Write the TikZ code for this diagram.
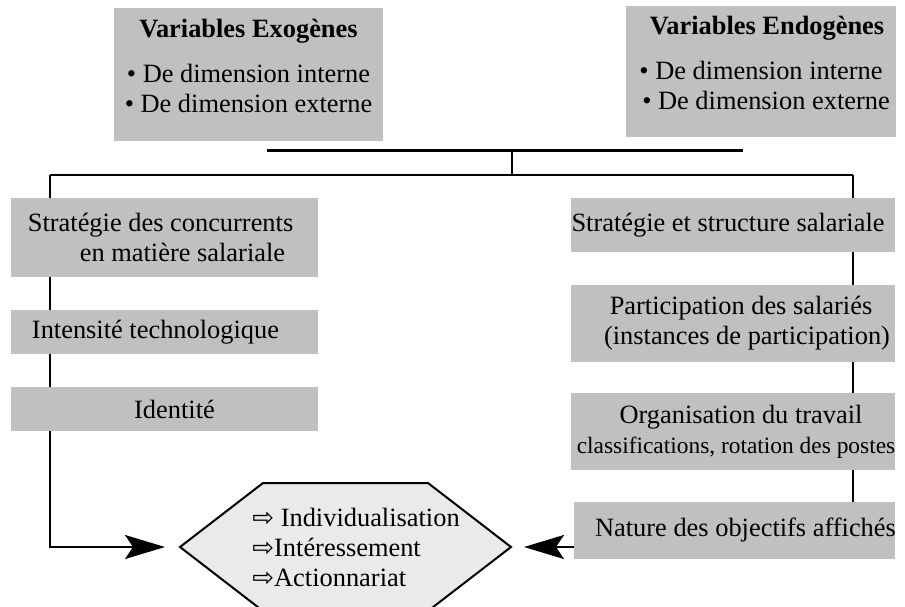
\documentclass[tikz,border=0pt]{standalone}
\usepackage{fontspec}
\setmainfont{Liberation Serif}
\newfontfamily\arrowfont{DejaVu Sans}
\usetikzlibrary{arrows.meta, calc}
\definecolor{boxgray}{RGB}{192,192,192}
\definecolor{hexgray}{RGB}{234,234,234}
\newcommand{\puce}{{\arrowfont\fontsize{13}{13}\selectfont ⇨}}
\newcommand{\lowstrut}{\rule[-9pt]{0pt}{9pt}}

\begin{document}
\begin{tikzpicture}[x=0.5pt, y=-0.5pt,
    every node/.style={font=\fontsize{13.2}{15}\selectfont},
    graybox/.style={fill=boxgray, inner sep=0pt, align=center},
    conn/.style={line width=1pt},
    arrowline/.style={line width=1pt, -{Stealth[length=20pt, width=12pt, inset=4pt]}}]
    \useasboundingbox (0,0) rectangle (905,606);
    \clip (0,0) rectangle (905,606);

    % Variables
    \node[graybox, minimum width=134.5pt, minimum height=66.5pt] (exo) at (248.5,74.5)
        {\textbf{Variables Exogènes}\\[7.5pt]• De dimension interne\\• De dimension externe\lowstrut};
    \node[graybox, minimum width=135pt, minimum height=65.5pt] (endo) at (761,71.5)
        {\textbf{Variables Endogènes}\hspace*{-6pt}\\[7.5pt]• De dimension interne\hspace*{-5pt}\\• De dimension externe\hspace*{-5pt}\lowstrut};

    % Bars
    \coordinate (tbL) at (267,150);
    \coordinate (tbR) at (743,150);
    \coordinate (tbM) at (512,150);
    \coordinate (bbL) at (50,175);
    \coordinate (bbR) at (853,175);
    \draw[line width=1.5pt] (tbL) -- (tbR);
    \draw[conn] (tbM) -- (tbM |- bbL);
    \draw[conn] (bbL) -- (bbR);

    % Left column
    \node[graybox, minimum width=153.5pt, minimum height=39.5pt, align=left] (s1) at (164.5,237.5)
        {Stratégie des concurrents\\\hspace*{26pt}en matière salariale\hspace*{8pt}};
    \node[graybox, minimum width=153.5pt, minimum height=22pt] (s2) at (164.5,332) {Intensité technologique\hspace*{9pt}};
    \node[graybox, minimum width=153.5pt, minimum height=22pt] (s3) at (164.5,409) {\hspace*{10pt}Identité};

    % Right column
    \node[graybox, minimum width=162pt, minimum height=27pt] (rA) at (733,225) {Stratégie et structure salariale\hspace*{5pt}};
    \node[graybox, minimum width=162pt, minimum height=38.5pt] (rB) at (733,323.5)
        {Participation des salariés\hspace*{-8pt}\\(instances de participation)\hspace*{-14pt}};
    \node[graybox, minimum width=162pt, minimum height=38.5pt] (rC) at (733,431.5)
        {Organisation du travail\hspace*{-8pt}\\{\fontsize{11.7}{13}\selectfont classifications, rotation des postes}\hspace*{-3pt}};
    \node[graybox, minimum width=160.5pt, minimum height=28.5pt] (rD) at (734.5,530.5) {Nature des objectifs affichés\hspace*{-11pt}};

    % Hexagon
    \coordinate (hexW) at (180,547);
    \coordinate (hexE) at (511,547);
    \draw[line width=1pt, fill=hexgray] (hexW) -- (263,483) -- (428,483) -- (hexE) -- (428,611) -- (263,611) -- cycle;
    \node[anchor=west, inner sep=0pt, align=left] (hex) at (252,547)
        {\puce{} Individualisation\\\puce Intéressement\\\puce Actionnariat};

    % Connectors
    \draw[conn] (bbL) -- (s1.north -| bbL);
    \draw[conn] (s1.south -| bbL) -- (s2.north -| bbL);
    \draw[conn] (s2.south -| bbL) -- (s3.north -| bbL);
    \draw[arrowline, shorten >=7.5pt] (s3.south -| bbL) |- (hexW);
    \draw[conn] (bbR) -- (rA.north -| bbR);
    \draw[conn] (rA.south -| bbR) -- (rB.north -| bbR);
    \draw[conn] (rB.south -| bbR) -- (rC.north -| bbR);
    \draw[conn] (rC.south -| bbR) -- (rD.north -| bbR);
    \draw[arrowline, shorten >=6.5pt] (hexE -| rD.west) -- (hexE);
\end{tikzpicture}
\end{document}
